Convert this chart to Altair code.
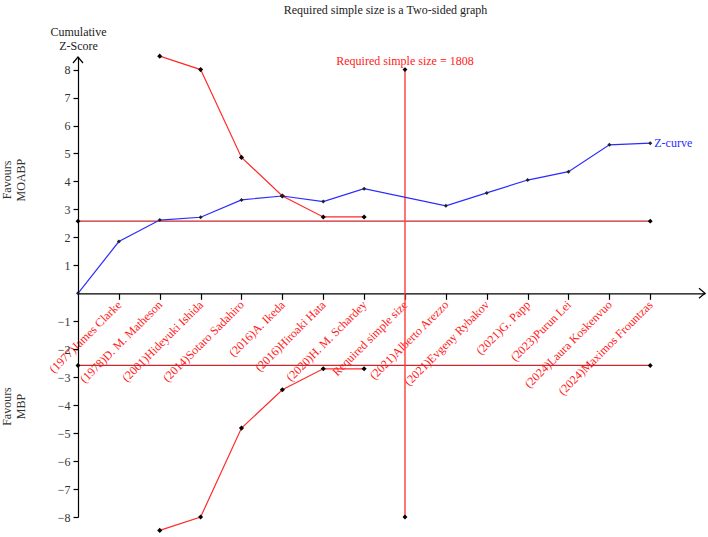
import json
import altair as alt
import pandas as pd

# ---------------- data ----------------
study_labels = [
    "(1977)James Clarke", "(1978)D. M. Matheson", "(2001)Hideyuki Ishida",
    "(2014)Sotaro Sadahiro", "(2016)A. Ikeda", "(2016)Hiroaki Hata",
    "(2020)H. M. Schardey", "Required simple size", "(2021)Alberto Arezzo",
    "(2021)Evgeny Rybakov", "(2021)G. Papp", "(2023)Purun Lei",
    "(2024)Laura Koskenvuo", "(2024)Maximos Frountzas",
]
tick_positions = list(range(1, 15))

z_pos = [0, 1, 2, 3, 4, 5, 6, 7, 9, 10, 11, 12, 13, 14]
z_values = [0.0, 1.85, 2.62, 2.72, 3.34, 3.48, 3.28, 3.74, 3.13, 3.59, 4.05, 4.35, 5.31, 5.37]

bound_pos = [2, 3, 4, 5, 6, 7]
upper_bound = [8.48, 8.0, 4.86, 3.48, 2.73, 2.73]
lower_bound = [-8.48, -8.0, -4.82, -3.45, -2.70, -2.70]

conv_pos = [0, 14]
conv_value = 2.58

req_pos = 8
req_range = [-8, 8]
req_label = "Required simple size = 1808"

y_ticks = [-8, -7, -6, -5, -4, -3, -2, -1, 1, 2, 3, 4, 5, 6, 7, 8]

# ---------------- layout ----------------
FONT = "Liberation Serif"
X_MIN, X_MAX = 0, 15.34
Y_MIN, Y_MAX = -8, 8.45
W, H = 627, 460
ZERO_OFFSET = -(0 - Y_MIN) * H / (Y_MAX - Y_MIN)

BLUE = "#2b2bff"
RED = "#ff2b2b"
DARKRED = "#c8282d"

xs = alt.Scale(domain=[X_MIN, X_MAX], nice=False, zero=False)
ys = alt.Scale(domain=[Y_MIN, Y_MAX], nice=False, zero=False)

label_expr = json.dumps(study_labels) + "[datum.value - 1]"

x_axis = alt.Axis(
    values=tick_positions, tickCount=30, labelExpr=label_expr, labelAngle=-45,
    labelAlign="right", labelBaseline="middle", labelColor="#ff2020",
    labelFont=FONT, labelFontSize=12, labelPadding=3, labelOverlap=False,
    tickSize=6, tickColor="black", domainColor="black", domainWidth=1.2,
    tickWidth=1.2, grid=False, title=None, offset=ZERO_OFFSET, orient="bottom",
)
y_axis = alt.Axis(
    values=y_ticks, tickCount=30, labelFont=FONT, labelFontSize=12, labelColor="#333",
    labelOverlap=False, labelPadding=3, labelBaseline="middle",
    tickSize=5, tickColor="black", domainColor="black", domainWidth=1.2,
    tickWidth=1.2, grid=False, format="d",
    title=["Cumulative", "Z-Score"], titleAngle=0, titleAlign="center",
    titleBaseline="bottom", titleX=0, titleY=-19, titleFont=FONT,
    titleFontSize=12, titleFontWeight="normal", titleColor="#222",
)

# ---------------- tables ----------------
z_df = pd.DataFrame({"x": z_pos, "y": z_values})
b_df = pd.DataFrame({
    "x": bound_pos + bound_pos,
    "y": upper_bound + lower_bound,
    "side": ["upper"] * len(bound_pos) + ["lower"] * len(bound_pos),
})
c_df = pd.DataFrame({
    "x": conv_pos + conv_pos,
    "y": [conv_value] * len(conv_pos) + [-conv_value] * len(conv_pos),
    "side": ["upper"] * len(conv_pos) + ["lower"] * len(conv_pos),
})
r_df = pd.DataFrame({"x": [req_pos], "y": [req_range[0]], "y2": [req_range[1]]})
r_pts = pd.DataFrame({"x": [req_pos, req_pos], "y": req_range})
r_lab = pd.DataFrame({"x": [req_pos], "y": [req_range[1]], "t": [req_label]})
zl_df = pd.DataFrame({"x": [z_pos[-1]], "y": [z_values[-1]], "t": ["Z-curve"]})
fav_df = pd.DataFrame({"y": [4.05, -4.05], "t": ["Favours\nMOABP", "Favours\nMBP"]})
arrow_up = pd.DataFrame({"x": [X_MIN], "y": [Y_MAX]})
arrow_right = pd.DataFrame({"x": [X_MAX], "y": [0]})


def X(axis=None):
    if axis is None:
        return alt.X("x:Q", scale=xs)
    return alt.X("x:Q", scale=xs, axis=axis)


def Y(axis=None):
    if axis is None:
        return alt.Y("y:Q", scale=ys)
    return alt.Y("y:Q", scale=ys, axis=axis)


conv_line = alt.Chart(c_df).mark_line(color=DARKRED, strokeWidth=1.3).encode(
    x=X(x_axis), y=Y(y_axis), detail="side:N")
conv_pts = alt.Chart(c_df).mark_point(shape="diamond", filled=True, color="black", size=24, opacity=1).encode(
    x=X(), y=Y())

req_rule = alt.Chart(r_df).mark_rule(color="#ff3b3b", strokeWidth=1.4).encode(
    x=X(), y=Y(), y2="y2:Q")
req_pts = alt.Chart(r_pts).mark_point(shape="diamond", filled=True, color="black", size=24, opacity=1).encode(
    x=X(), y=Y())
req_text = alt.Chart(r_lab).mark_text(color="#ff2020", font=FONT, fontSize=12, baseline="bottom", dy=-2).encode(
    x=X(), y=Y(), text="t:N")

bound_line = alt.Chart(b_df).mark_line(color=RED, strokeWidth=1.2).encode(
    x=X(), y=Y(), detail="side:N")
bound_pts = alt.Chart(b_df).mark_point(shape="diamond", filled=True, color="black", size=26, opacity=1).encode(
    x=X(), y=Y())

z_line = alt.Chart(z_df).mark_line(color=BLUE, strokeWidth=1.2).encode(x=X(), y=Y())
z_pts = alt.Chart(z_df).mark_point(shape="diamond", filled=True, color="#222", size=16, opacity=1).encode(
    x=X(), y=Y())
z_text = alt.Chart(zl_df).mark_text(color=BLUE, font=FONT, fontSize=12, align="left", baseline="middle", dx=4).encode(
    x=X(), y=Y(), text="t:N")

fav_text = alt.Chart(fav_df).mark_text(
    font=FONT, fontSize=12, color="#333", angle=270, lineBreak="\n",
    align="center", baseline="middle").encode(
    x=alt.value(-71), y=Y(), text="t:N")

up_arrow = alt.Chart(arrow_up).mark_point(
    shape="M-1,1.2L0,0L1,1.2", filled=False, color="black", strokeWidth=1.2, size=100, opacity=1).encode(
    x=X(), y=Y())
right_arrow = alt.Chart(arrow_right).mark_point(
    shape="M-1.2,-1L0,0L-1.2,1", filled=False, color="black", strokeWidth=1.2, size=100, opacity=1).encode(
    x=X(), y=Y())

chart = alt.layer(
    conv_line, req_rule, bound_line, z_line,
    conv_pts, req_pts, bound_pts, z_pts,
    req_text, z_text, fav_text, up_arrow, right_arrow,
).properties(
    width=W, height=H,
    background="white",
    title=alt.TitleParams("Required simple size is a Two-sided graph", font=FONT, fontSize=12,
                          fontWeight="normal", color="#222", anchor="middle", dx=-6, dy=-4),
    autosize=alt.AutoSizeParams(type="none"),
    padding={"left": 78, "top": 57, "right": 3, "bottom": 20},
).configure_view(strokeWidth=0, stroke="transparent")

chart.save("out.html", embed_options={"renderer": "svg", "actions": False})
